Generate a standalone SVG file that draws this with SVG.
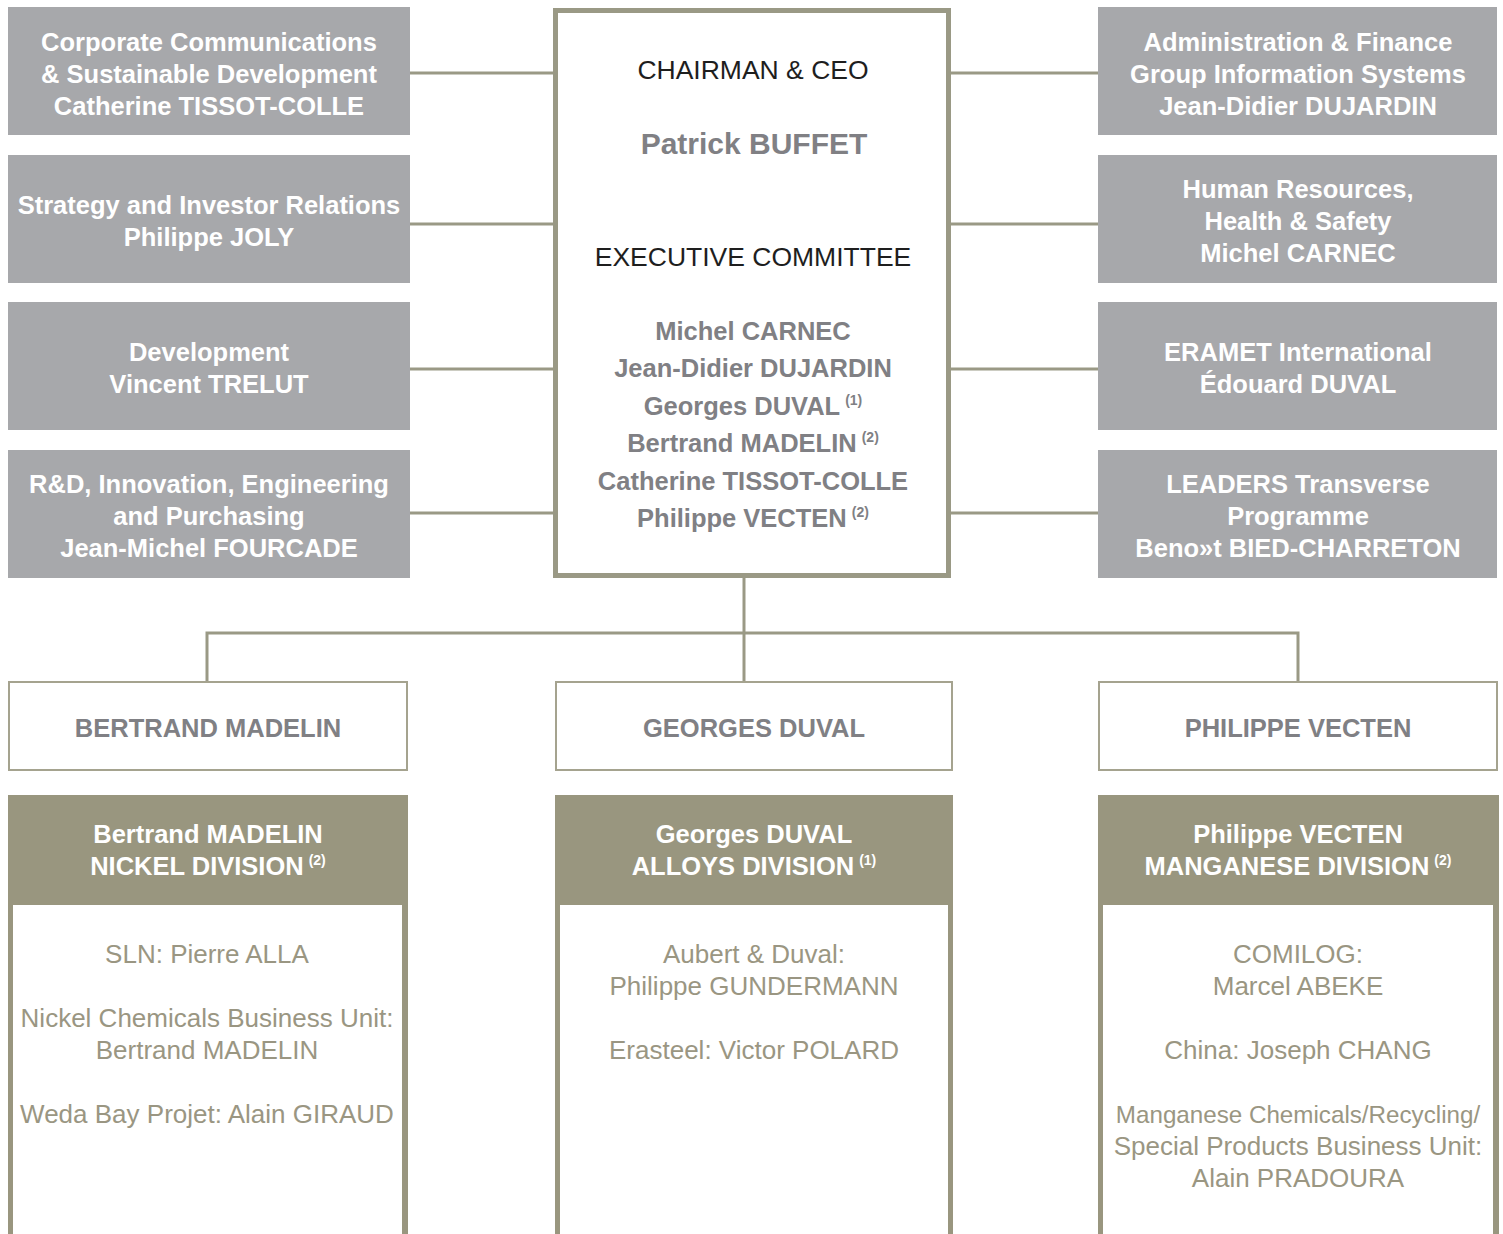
<svg xmlns="http://www.w3.org/2000/svg" width="1503" height="1234" viewBox="0 0 1503 1234">
<style>
text{font-family:"Liberation Sans",Arial,sans-serif;font-size:25.5px;text-anchor:middle}
.gb{fill:#a7a8ab}
.wt{fill:#ffffff;font-weight:bold}
.nm{fill:#808084;font-weight:bold}
.bk{fill:#1e1e1e;font-size:26.5px}
.ol{fill:#9a9682;font-size:26px}
.conn{stroke:#9a9985;stroke-width:3;fill:none}
.sup{font-size:14px}
.hdr{fill:#99967f}
.wb{fill:#ffffff;stroke:#a5a38f;stroke-width:2}
</style>
<rect width="1503" height="1234" fill="#ffffff"/>
<g id="connectors">
<line class="conn" x1="410" y1="73" x2="556" y2="73"/>
<line class="conn" x1="410" y1="224" x2="556" y2="224"/>
<line class="conn" x1="410" y1="369" x2="556" y2="369"/>
<line class="conn" x1="410" y1="513" x2="556" y2="513"/>
<line class="conn" x1="950" y1="73" x2="1098" y2="73"/>
<line class="conn" x1="950" y1="224" x2="1098" y2="224"/>
<line class="conn" x1="950" y1="369" x2="1098" y2="369"/>
<line class="conn" x1="950" y1="513" x2="1098" y2="513"/>
<line class="conn" x1="744" y1="576" x2="744" y2="682"/>
<polyline class="conn" points="207,682 207,633 1298,633 1298,682"/>
</g>
<g id="corp-comm">
<rect class="gb" x="8" y="7" width="402" height="128"/>
<text class="wt" x="209" y="51">Corporate Communications</text>
<text class="wt" x="209" y="83">&amp; Sustainable Development</text>
<text class="wt" x="209" y="115">Catherine TISSOT-COLLE</text>
</g>
<g id="strategy">
<rect class="gb" x="8" y="155" width="402" height="128"/>
<text class="wt" x="209" y="214">Strategy and Investor Relations</text>
<text class="wt" x="209" y="246">Philippe JOLY</text>
</g>
<g id="development">
<rect class="gb" x="8" y="302" width="402" height="128"/>
<text class="wt" x="209" y="361">Development</text>
<text class="wt" x="209" y="393">Vincent TRELUT</text>
</g>
<g id="rnd">
<rect class="gb" x="8" y="450" width="402" height="128"/>
<text class="wt" x="209" y="493">R&amp;D, Innovation, Engineering</text>
<text class="wt" x="209" y="525">and Purchasing</text>
<text class="wt" x="209" y="557">Jean-Michel FOURCADE</text>
</g>
<g id="admin-finance">
<rect class="gb" x="1098" y="7" width="399" height="128"/>
<text class="wt" x="1298" y="51">Administration &amp; Finance</text>
<text class="wt" x="1298" y="83">Group Information Systems</text>
<text class="wt" x="1298" y="115">Jean-Didier DUJARDIN</text>
</g>
<g id="hr">
<rect class="gb" x="1098" y="155" width="399" height="128"/>
<text class="wt" x="1298" y="198">Human Resources,</text>
<text class="wt" x="1298" y="230">Health &amp; Safety</text>
<text class="wt" x="1298" y="262">Michel CARNEC</text>
</g>
<g id="eramet-intl">
<rect class="gb" x="1098" y="302" width="399" height="128"/>
<text class="wt" x="1298" y="361">ERAMET International</text>
<text class="wt" x="1298" y="393">Édouard DUVAL</text>
</g>
<g id="leaders">
<rect class="gb" x="1098" y="450" width="399" height="128"/>
<text class="wt" x="1298" y="493">LEADERS Transverse</text>
<text class="wt" x="1298" y="525">Programme</text>
<text class="wt" x="1298" y="557">Beno»t BIED-CHARRETON</text>
</g>
<g id="ceo">
<rect x="555.5" y="10.5" width="393" height="565" fill="#ffffff" stroke="#9a9985" stroke-width="5"/>
<text class="bk" x="753" y="79">CHAIRMAN &amp; CEO</text>
<text class="nm" x="754" y="154" style="font-size:30px">Patrick BUFFET</text>
<text class="bk" x="753" y="266">EXECUTIVE COMMITTEE</text>
<text class="nm" x="753" y="340">Michel CARNEC</text>
<text class="nm" x="753" y="377">Jean-Didier DUJARDIN</text>
<text class="nm" x="753" y="415">Georges DUVAL<tspan class="sup" dx="5" dy="-10">(1)</tspan></text>
<text class="nm" x="753" y="452">Bertrand MADELIN<tspan class="sup" dx="5" dy="-10">(2)</tspan></text>
<text class="nm" x="753" y="490">Catherine TISSOT-COLLE</text>
<text class="nm" x="753" y="527">Philippe VECTEN<tspan class="sup" dx="5" dy="-10">(2)</tspan></text>
</g>
<g id="madelin">
<rect class="wb" x="9" y="682" width="398" height="88"/>
<text class="nm" x="208" y="737">BERTRAND MADELIN</text>
</g>
<g id="duval">
<rect class="wb" x="556" y="682" width="396" height="88"/>
<text class="nm" x="754" y="737">GEORGES DUVAL</text>
</g>
<g id="vecten">
<rect class="wb" x="1099" y="682" width="398" height="88"/>
<text class="nm" x="1298" y="737">PHILIPPE VECTEN</text>
</g>
<g id="nickel-division">
<rect class="hdr" x="8" y="795" width="400" height="445"/>
<rect x="13" y="905" width="389" height="335" fill="#ffffff"/>
<text class="wt" x="208" y="843">Bertrand MADELIN</text>
<text class="wt" x="208" y="875">NICKEL DIVISION<tspan class="sup" dx="5" dy="-10">(2)</tspan></text>
<text class="ol" x="207" y="963">SLN: Pierre ALLA</text>
<text class="ol" x="207" y="1027">Nickel Chemicals Business Unit:</text>
<text class="ol" x="207" y="1059">Bertrand MADELIN</text>
<text class="ol" x="207" y="1123">Weda Bay Projet: Alain GIRAUD</text>
</g>
<g id="alloys-division">
<rect class="hdr" x="555" y="795" width="398" height="445"/>
<rect x="560" y="905" width="388" height="335" fill="#ffffff"/>
<text class="wt" x="754" y="843">Georges DUVAL</text>
<text class="wt" x="754" y="875">ALLOYS DIVISION<tspan class="sup" dx="5" dy="-10">(1)</tspan></text>
<text class="ol" x="754" y="963">Aubert &amp; Duval:</text>
<text class="ol" x="754" y="995">Philippe GUNDERMANN</text>
<text class="ol" x="754" y="1059">Erasteel: Victor POLARD</text>
</g>
<g id="manganese-division">
<rect class="hdr" x="1098" y="795" width="401" height="445"/>
<rect x="1103" y="905" width="390" height="335" fill="#ffffff"/>
<text class="wt" x="1298" y="843">Philippe VECTEN</text>
<text class="wt" x="1298" y="875">MANGANESE DIVISION<tspan class="sup" dx="5" dy="-10">(2)</tspan></text>
<text class="ol" x="1298" y="963">COMILOG:</text>
<text class="ol" x="1298" y="995">Marcel ABEKE</text>
<text class="ol" x="1298" y="1059">China: Joseph CHANG</text>
<text class="ol" x="1298" y="1123" style="font-size:24.2px">Manganese Chemicals/Recycling/</text>
<text class="ol" x="1298" y="1155">Special Products Business Unit:</text>
<text class="ol" x="1298" y="1187">Alain PRADOURA</text>
</g>
</svg>
